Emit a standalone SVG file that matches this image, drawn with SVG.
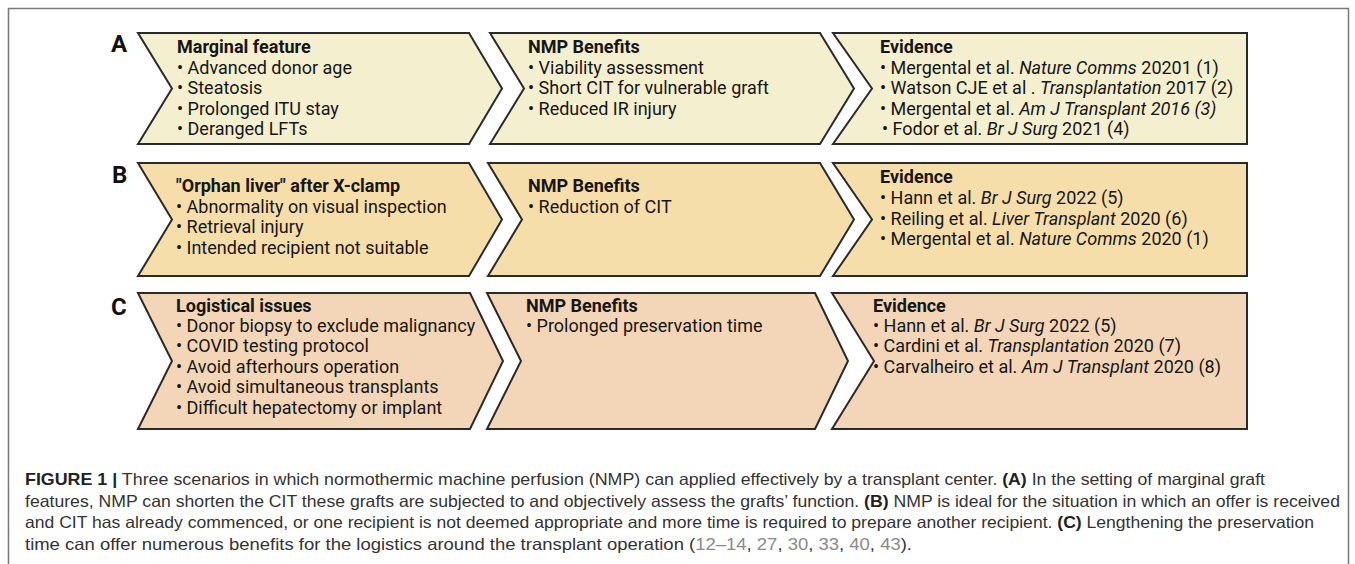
<svg xmlns="http://www.w3.org/2000/svg" width="1355" height="564" viewBox="0 0 1355 564">
<style>
.frame{fill:#fff;stroke:#7a7a7a;stroke-width:1.5}
.box{stroke:#2a2a2a;stroke-width:2;stroke-linejoin:miter}
.ra{fill:#F4EFCE}
.rb{fill:#F6DEAA}
.rc{fill:#F3D6B7}
.t{font-family:Roboto,"Liberation Sans",sans-serif;font-size:18px;fill:#161616}
.h{font-weight:bold}
.i{font-style:italic}
.lab{font-family:Roboto,"Liberation Sans",sans-serif;font-size:24px;font-weight:bold;fill:#111}
.cap{font-family:"Liberation Sans Narrow","Liberation Sans",sans-serif;font-size:16.5px;fill:#333}
.capb{font-weight:bold;fill:#222}
.ref{fill:#8a8a8a}
</style>
<rect class="frame" x="8.5" y="8.5" width="1340" height="570"/>
<g id="connectors"/>

<g id="label-A"><text class="lab" x="111" y="52">A</text></g>
<g id="label-B"><text class="lab" x="112" y="183">B</text></g>
<g id="label-C"><text class="lab" x="111" y="315">C</text></g>

<!-- Row A -->
<g id="A1">
<polygon class="box ra" points="138,33 469,33 502,88.5 469,144 138,144 172,88.5"/>
<text class="t h" x="177" y="53">Marginal feature</text>
<text class="t" x="177" y="73.5">• Advanced donor age</text>
<text class="t" x="177" y="94">• Steatosis</text>
<text class="t" x="177" y="114.5">• Prolonged ITU stay</text>
<text class="t" x="177" y="135">• Deranged LFTs</text>
</g>
<g id="A2">
<polygon class="box ra" points="490,33 820,33 854,88.5 820,144 490,144 524,88.5"/>
<text class="t h" x="528" y="53">NMP Benefits</text>
<text class="t" x="528" y="73.5">• Viability assessment</text>
<text class="t" x="528" y="94">• Short CIT for vulnerable graft</text>
<text class="t" x="528" y="114.5">• Reduced IR injury</text>
</g>
<g id="A3">
<polygon class="box ra" points="833,33 1247,33 1247,144 833,144 872,88.5"/>
<text class="t h" x="880" y="53">Evidence</text>
<text class="t" x="880" y="73.5">• Mergental et al. <tspan class="i">Nature Comms</tspan> 20201 (1)</text>
<text class="t" x="880" y="94">• Watson CJE et al . <tspan class="i">Transplantation</tspan> 2017 (2)</text>
<text class="t" x="880" y="114.5">• Mergental et al. <tspan class="i">Am J Transplant 2016 (3)</tspan></text>
<text class="t" x="882" y="135">• Fodor et al. <tspan class="i">Br J Surg</tspan> 2021 (4)</text>
</g>

<!-- Row B -->
<g id="B1">
<polygon class="box rb" points="138,163 469,163 502,219.5 469,276 138,276 172,219.5"/>
<text class="t h" x="176" y="192">"Orphan liver" after X-clamp</text>
<text class="t" x="176" y="212.5">• Abnormality on visual inspection</text>
<text class="t" x="176" y="233">• Retrieval injury</text>
<text class="t" x="176" y="253.5">• Intended recipient not suitable</text>
</g>
<g id="B2">
<polygon class="box rb" points="488,163 820,163 854,219.5 820,276 488,276 522,219.5"/>
<text class="t h" x="528" y="192">NMP Benefits</text>
<text class="t" x="528" y="212.5">• Reduction of CIT</text>
</g>
<g id="B3">
<polygon class="box rb" points="833,163 1247,163 1247,276 833,276 872,219.5"/>
<text class="t h" x="880" y="183">Evidence</text>
<text class="t" x="880" y="204">• Hann et al. <tspan class="i">Br J Surg</tspan> 2022 (5)</text>
<text class="t" x="880" y="224.5">• Reiling et al. <tspan class="i">Liver Transplant</tspan> 2020 (6)</text>
<text class="t" x="880" y="245">• Mergental et al. <tspan class="i">Nature Comms</tspan> 2020 (1)</text>
</g>

<!-- Row C -->
<g id="C1">
<polygon class="box rc" points="138,293 470,293 503,361 470,429 138,429 172,361"/>
<text class="t h" x="176" y="312">Logistical issues</text>
<text class="t" x="176" y="331.5">• Donor biopsy to exclude malignancy</text>
<text class="t" x="176" y="352">• COVID testing protocol</text>
<text class="t" x="176" y="372.5">• Avoid afterhours operation</text>
<text class="t" x="176" y="393">• Avoid simultaneous transplants</text>
<text class="t" x="176" y="413.5">• Difficult hepatectomy or implant</text>
</g>
<g id="C2">
<polygon class="box rc" points="487,293 815,293 848,361 815,429 487,429 521,361"/>
<text class="t h" x="526" y="312">NMP Benefits</text>
<text class="t" x="526" y="331.5">• Prolonged preservation time</text>
</g>
<g id="C3">
<polygon class="box rc" points="832,293 1247,293 1247,429 832,429 874,361"/>
<text class="t h" x="873" y="312">Evidence</text>
<text class="t" x="873" y="331.5">• Hann et al. <tspan class="i">Br J Surg</tspan> 2022 (5)</text>
<text class="t" x="873" y="352">• Cardini et al. <tspan class="i">Transplantation</tspan> 2020 (7)</text>
<text class="t" x="873" y="372.5">• Carvalheiro et al. <tspan class="i">Am J Transplant</tspan> 2020 (8)</text>
</g>

<!-- Caption -->
<g id="caption">
<text class="cap" x="25" y="485" textLength="649" lengthAdjust="spacingAndGlyphs"><tspan class="capb">FIGURE 1 |</tspan> Three scenarios in which normothermic machine perfusion (NMP) can</text>
<text class="cap" x="679" y="485" textLength="586" lengthAdjust="spacingAndGlyphs">applied effectively by a transplant center. <tspan class="capb">(A)</tspan> In the setting of marginal graft</text>
<text class="cap" x="25" y="506.5" textLength="1315" lengthAdjust="spacingAndGlyphs">features, NMP can shorten the CIT these grafts are subjected to and objectively assess the grafts’ function. <tspan class="capb">(B)</tspan> NMP is ideal for the situation in which an offer is received</text>
<text class="cap" x="25" y="528" textLength="1289" lengthAdjust="spacingAndGlyphs">and CIT has already commenced, or one recipient is not deemed appropriate and more time is required to prepare another recipient. <tspan class="capb">(C)</tspan> Lengthening the preservation</text>
<text class="cap" x="25" y="549.5" textLength="887" lengthAdjust="spacingAndGlyphs">time can offer numerous benefits for the logistics around the transplant operation (<tspan class="ref">12–14</tspan>, <tspan class="ref">27</tspan>, <tspan class="ref">30</tspan>, <tspan class="ref">33</tspan>, <tspan class="ref">40</tspan>, <tspan class="ref">43</tspan>).</text>
</g>
</svg>
